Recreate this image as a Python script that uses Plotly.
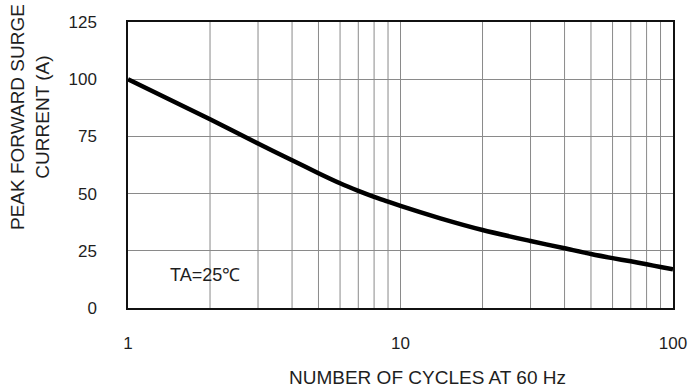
import plotly.graph_objects as go

cycles = [1, 2, 3, 4, 5, 6, 7, 8, 9, 10, 14, 20, 30, 40, 50, 60, 70, 80, 90, 100]
current = [100, 82.5, 71.9, 64.6, 58.9, 54.5, 51.2, 48.6, 46.5, 44.6, 39.2, 34.1, 29.3, 26.1, 23.6, 21.8, 20.4, 19.1, 17.9, 16.9]

y_ticks = [0, 25, 50, 75, 100, 125]
x_ticks = [1, 10, 100]
x_grid = [2, 3, 4, 5, 6, 7, 8, 9, 10, 20, 30, 40, 50, 60, 70, 80, 90]

FONT = "Liberation Sans, Arial, sans-serif"
TXT = "#1e1e1e"

fig = go.Figure()
fig.add_trace(go.Scatter(x=cycles, y=current, mode="lines",
                         line=dict(color="black", width=4.5, shape="spline", smoothing=0.8),
                         showlegend=False, hoverinfo="skip"))

# vertical grid lines for log minor divisions
for gx in x_grid:
    fig.add_shape(type="line", xref="x", yref="paper", x0=gx, x1=gx, y0=0, y1=1,
                  line=dict(color="#8a8a8a", width=1), layer="below")

fig.update_layout(
    width=688, height=391,
    margin=dict(l=128, r=15, t=22, b=83),
    paper_bgcolor="white", plot_bgcolor="white",
    font=dict(family=FONT, size=17, color=TXT),
    xaxis=dict(type="log", range=[0, 2], tickvals=x_ticks, ticktext=["1", "10", "100"],
               showgrid=False, zeroline=False, showline=True, linecolor="#111", linewidth=1.5,
               mirror=True, ticks="", ticklabelstandoff=19, automargin=False,
               tickfont=dict(family=FONT, size=17, color=TXT)),
    yaxis=dict(range=[0, 125], tickvals=y_ticks, showgrid=True, gridcolor="#8a8a8a", gridwidth=1,
               zeroline=False, showline=True, linecolor="#111", linewidth=1.5, mirror=True,
               ticks="", ticklabelstandoff=26, automargin=False,
               tickfont=dict(family=FONT, size=17, color=TXT)),
    annotations=[
        dict(text="NUMBER OF CYCLES AT 60 Hz", xref="paper", yref="paper",
             x=(427 - 128) / (673 - 128), y=-(377 - 308) / 286, showarrow=False,
             xanchor="center", yanchor="middle", font=dict(family=FONT, size=19, color=TXT)),
        dict(text="PEAK FORWARD SURGE<br>CURRENT (A)", xref="paper", yref="paper",
             x=-(128 - 30) / 545, y=(308 - 117) / 286, showarrow=False, textangle=-90,
             xanchor="center", yanchor="middle", font=dict(family=FONT, size=19, color=TXT)),
        dict(text="TA=25℃", xref="paper", yref="paper",
             x=(168 - 128) / 545, y=(308 - 275) / 286, showarrow=False,
             xanchor="left", yanchor="middle", font=dict(family=FONT, size=18, color=TXT)),
    ],
)

fig.write_html("out.html")
